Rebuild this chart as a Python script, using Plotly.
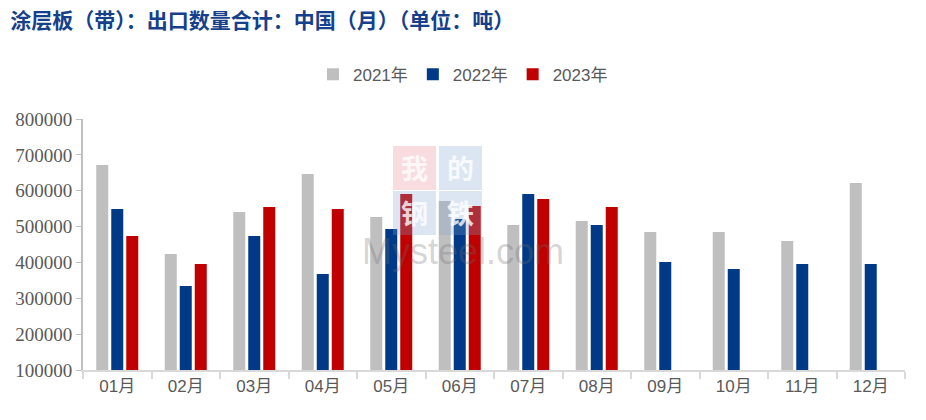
import plotly.graph_objects as go

months = ["01月", "02月", "03月", "04月", "05月", "06月", "07月", "08月", "09月", "10月", "11月", "12月"]
y2021 = [672000, 423500, 540600, 646600, 526700, 571300, 504400, 515500, 484900, 484900, 459800, 621500]
y2022 = [549000, 334000, 474000, 367700, 493200, 521100, 590800, 504400, 401200, 381700, 395600, 395600]
y2023 = [473700, 395600, 554600, 549000, 590800, 557400, 576900, 554600, None, None, None, None]

series = [("2021年", y2021, "#bfbfbf"), ("2022年", y2022, "#003a86"), ("2023年", y2023, "#c00000")]

fig = go.Figure()
for name, vals, col in series:
    fig.add_trace(go.Bar(x=months, y=vals, name=name, marker=dict(color=col, line=dict(width=0))))

# watermark
L, T, W, H = 83, 119, 822, 251
def px(x):
    return (x - L) / W
def py(y):
    return (T + H - y) / H

wm_boxes = [(393, 146, "rgba(235,130,140,0.28)", "我"), (439, 146, "rgba(130,165,210,0.28)", "的"),
            (393, 191, "rgba(130,165,210,0.28)", "钢"), (439, 191, "rgba(130,165,210,0.28)", "铁")]
for x0, y0, c, ch in wm_boxes:
    fig.add_shape(type="rect", xref="paper", yref="paper",
                  x0=px(x0), x1=px(x0 + 43), y0=py(y0 + 44), y1=py(y0),
                  fillcolor=c, line=dict(width=0), layer="above")
    fig.add_annotation(text="<b>" + ch + "</b>", xref="paper", yref="paper",
                       x=px(x0 + 21.5), y=py(y0 + 21), xanchor="center", yanchor="middle",
                       showarrow=False, font=dict(size=27, color="rgba(255,255,255,0.8)",
                                                  family="Noto Sans CJK SC"))
fig.add_annotation(text="Mysteel.com", xref="paper", yref="paper",
                   x=px(463), y=py(251), xanchor="center", yanchor="middle", showarrow=False,
                   font=dict(size=36, color="rgba(110,110,110,0.3)", family="Liberation Sans"))

fig.update_layout(
    width=926, height=420,
    margin=dict(l=83, r=21, t=119, b=50),
    plot_bgcolor="white", paper_bgcolor="white",
    barmode="group", bargap=0.343, bargroupgap=0.2,
    title=dict(text="<b>涂层板（带）：出口数量合计：中国（月）（单位：吨）</b>",
               x=0.011, xref="container", xanchor="left", y=0.952, yanchor="middle",
               font=dict(size=21, color="#163f8c", family="Noto Sans CJK SC")),
    legend=dict(orientation="h", x=0.5, xref="container", xanchor="center",
                y=0.822, yref="container", yanchor="middle",
                font=dict(size=17, color="#595959", family="Liberation Sans, Noto Sans CJK SC"),
                itemwidth=30, traceorder="normal"),
    showlegend=True,
)
fig.update_yaxes(range=[100000, 800000], dtick=100000, tickformat="d",
                 showgrid=False, zeroline=False,
                 showline=True, linecolor="#bfbfbf", linewidth=2,
                 ticks="outside", ticklen=5, tickcolor="#bfbfbf", tickwidth=1,
                 tickfont=dict(size=19, color="#595959", family="Liberation Serif"))
fig.update_xaxes(showgrid=False, showline=True, linecolor="#d9d9d9", linewidth=2,
                 ticks="outside", tickson="boundaries", ticklen=7, tickcolor="#d9d9d9", tickwidth=2,
                 tickfont=dict(size=17, color="#595959", family="Liberation Sans, Noto Sans CJK SC"))

fig.write_html("out.html")
